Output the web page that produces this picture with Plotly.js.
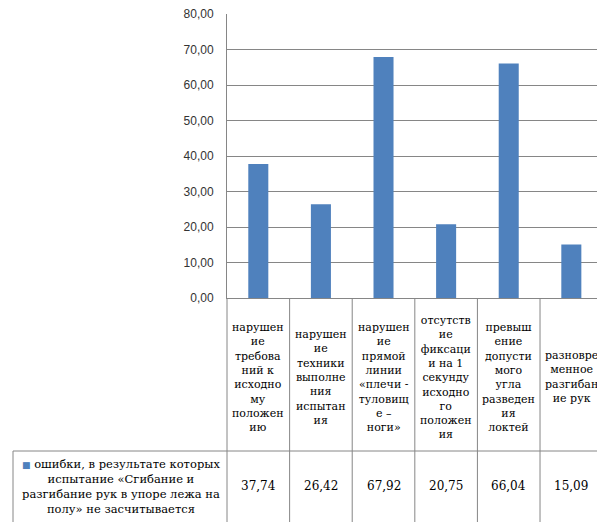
<!DOCTYPE html>
<html>
<head>
<meta charset="utf-8">
<script src="https://cdn.plot.ly/plotly-3.0.1.min.js"></script>
<style>html,body{margin:0;padding:0;background:#fff;overflow:hidden}</style>
</head>
<body>
<div id="chart" style="width:597px;height:522px"></div>
<script>
// Category labels (wrapped as in the data table header)
const categories = [
  "нарушен<br>ие<br>требова<br>ний к<br>исходно<br>му<br>положен<br>ию",
  "нарушен<br>ие<br>техники<br>выполне<br>ния<br>испытан<br>ия",
  "нарушен<br>ие<br>прямой<br>линии<br>«плечи -<br>туловищ<br>е –<br>ноги»",
  "отсутств<br>ие<br>фиксаци<br>и на 1<br>секунду<br>исходно<br>го<br>положен<br>ия",
  "превыш<br>ение<br>допусти<br>мого<br>угла<br>разведен<br>ия<br>локтей",
  "разновре<br>менное<br>разгибан<br>ие рук"
];
const values = [37.74, 26.42, 67.92, 20.75, 66.04, 15.09];
const valueLabels = ["37,74", "26,42", "67,92", "20,75", "66,04", "15,09"];
const seriesName = "ошибки, в результате которых<br>испытание «Сгибание и<br>разгибание рук в упоре лежа на<br>полу» не засчитывается";
const yTicks = [0, 10, 20, 30, 40, 50, 60, 70, 80];

const barColor = "#4F81BD";
const gridColor = "#868686";
const serif = "DejaVu Serif";
const idx = categories.map((_, i) => i);

const plotH = 284, plotW = 370;
const pY = px => -(px - 298) / plotH;
const pX = px => (px - 227) / plotW;
const yTableBottom = pY(530);
const yRowSplit = pY(451);
const yHeaderMid = pY(377);
const yValueMid = pY(486);

const shapes = [];
shapes.push({type: "line", xref: "paper", yref: "paper", x0: 0, x1: 0, y0: 0, y1: yTableBottom,
  line: {color: gridColor, width: 1}});
for (let i = 0; i < categories.length; i++) {
  shapes.push({type: "line", xref: "x", yref: "paper", x0: i + 0.5, x1: i + 0.5, y0: 0, y1: yTableBottom,
    line: {color: gridColor, width: 1}});
}
shapes.push({type: "line", xref: "paper", yref: "paper", x0: pX(13), x1: 1.05, y0: yRowSplit, y1: yRowSplit,
  line: {color: gridColor, width: 1}});
shapes.push({type: "line", xref: "paper", yref: "paper", x0: pX(13), x1: pX(13), y0: yRowSplit, y1: yTableBottom,
  line: {color: gridColor, width: 1}});

const annotations = [];
categories.forEach((c, i) => {
  annotations.push({xref: "x", yref: "paper", x: i, y: yHeaderMid, text: c, showarrow: false,
    xanchor: "center", yanchor: "middle", align: "center",
    font: {family: serif, size: 11, color: "#000"}});
  annotations.push({xref: "x", yref: "paper", x: i, y: yValueMid, text: valueLabels[i], showarrow: false,
    xanchor: "center", yanchor: "middle", align: "center",
    font: {family: serif, size: 12, color: "#000"}});
});
annotations.push({xref: "paper", yref: "paper", x: pX(121), y: yValueMid,
  text: "<span style='color:" + barColor + ";font-size:9px'>■</span> " + seriesName,
  showarrow: false, xanchor: "center", yanchor: "middle", align: "center",
  font: {family: serif, size: 11.5, color: "#000"}});

const trace = {
  type: "bar",
  x: idx,
  y: values,
  name: seriesName,
  width: 0.32,
  marker: {color: barColor},
  hoverinfo: "y"
};

const layout = {
  width: 597, height: 522,
  margin: {l: 227, r: 0, t: 14, b: 224, pad: 0},
  paper_bgcolor: "#fff", plot_bgcolor: "#fff",
  showlegend: false,
  separators: ", ",
  xaxis: {range: [-0.5, 5.41], showticklabels: false, ticks: "", showgrid: false, zeroline: false,
    showline: true, linecolor: gridColor, linewidth: 1, fixedrange: true},
  yaxis: {range: [0, 80], tickvals: yTicks, tickformat: ".2f", showgrid: true, gridcolor: gridColor, gridwidth: 1,
    zeroline: false, showline: true, linecolor: gridColor, linewidth: 1, ticks: "", ticklabelstandoff: 10,
    tickfont: {family: "Liberation Sans", size: 12, color: "#333"}, fixedrange: true},
  shapes: shapes,
  annotations: annotations
};

Plotly.newPlot("chart", [trace], layout, {displayModeBar: false, staticPlot: true});
</script>
</body>
</html>
